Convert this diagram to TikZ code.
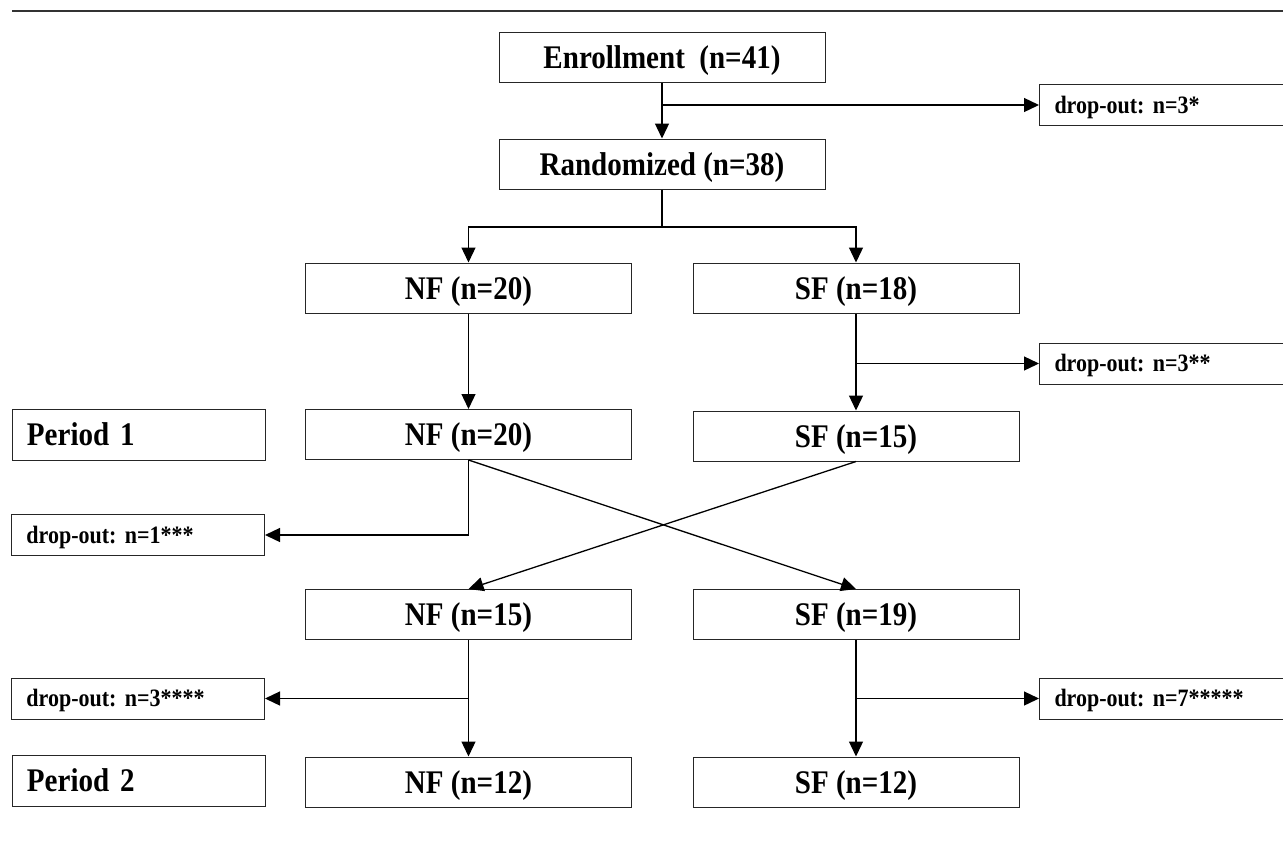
\documentclass[tikz,border=0pt]{standalone}
\usepackage{fontspec}
\setmainfont{Liberation Serif}[FakeStretch=0.88]
\usetikzlibrary{arrows.meta}
\frenchspacing

\begin{document}
\begin{tikzpicture}[x=1pt, y=-1pt,
    box/.style={draw=black!85, line width=1pt, minimum width=326pt, minimum height=50pt,
                inner sep=0pt, text height=24pt, text depth=2pt,
                font=\fontsize{33}{33}\selectfont\bfseries},
    period/.style={draw=black!85, line width=1pt, minimum width=253pt, minimum height=51pt,
                   text width=223pt, inner xsep=15pt, inner ysep=0pt, align=left,
                   text height=24pt, text depth=2pt,
                   font=\fontsize{33}{33}\selectfont\bfseries},
    dropout/.style={period, minimum height=41pt, text height=18pt, text depth=2pt,
                    font=\fontsize{25}{25}\selectfont\bfseries},
    conn/.style={line width=1.3pt},
    arr/.style={conn, -{Triangle[length=15pt,width=14pt]}}]

    \clip (0,0) rectangle (1283,855);

    % Linea in alto
    \draw[line width=2pt, black!80] (12,11) -- (1283,11);

    % Blocchi centrali
    \node[box] (enr)  at (662,57)    {Enrollment\ \ (n=41)};
    \node[box] (rand) at (662,164)   {Randomized (n=38)};
    \node[box] (nf1)  at (468.5,288) {NF (n=20)};
    \node[box] (sf1)  at (856,288)   {SF (n=18)};
    \node[box] (nf2)  at (468.5,434.5) {NF (n=20)};
    \node[box] (sf2)  at (856,436)   {SF (n=15)};
    \node[box] (nf3)  at (468.5,614.5) {NF (n=15)};
    \node[box] (sf3)  at (856,614.5) {SF (n=19)};
    \node[box] (nf4)  at (468.5,782) {NF (n=12)};
    \node[box] (sf4)  at (856,782)   {SF (n=12)};

    % Periodi
    \node[period] (per1) at (138.5,434.5) {Period 1};
    \node[period] (per2) at (138.5,780.5) {Period 2};

    % Drop-out
    \node[dropout, anchor=west] (drop1) at (1039,105)   {drop-out: n=3*};
    \node[dropout, anchor=west] (drop2) at (1039,363.5) {drop-out: n=3**};
    \node[dropout, anchor=east] (drop3) at (265,535)    {drop-out: n=1***};
    \node[dropout, anchor=east] (drop4) at (265,698.5)  {drop-out: n=3****};
    \node[dropout, anchor=west] (drop5) at (1039,698.5) {drop-out: n=7*****};

    % Percorso
    \draw[arr] (enr) -- (rand);                              % enrollment -> randomized
    \draw[arr] (enr.south |- drop1.west) -- (drop1.west);    % -> drop-out

    \coordinate (fork) at (662,227);
    \draw[conn] (rand) -- (fork);
    \draw[arr] (fork) -| (nf1);                              % -> NF
    \draw[arr] (fork) -| (sf1);                              % -> SF

    \draw[arr] (nf1) -- (nf2);                               % NF -> NF
    \draw[arr] (sf1) -- (sf2);                               % SF -> SF
    \draw[arr] (sf1.south |- drop2.west) -- (drop2.west);    % -> drop-out

    % Incrocio
    \draw[arr] (nf2.south) |- (drop3.east);                  % -> drop-out
    \draw[arr] (nf2.south) -- (sf3.north);                   % NF -> SF
    \draw[arr] (sf2.south) -- (nf3.north);                   % SF -> NF

    \draw[arr] (nf3) -- (nf4);                               % NF -> NF
    \draw[arr] (nf3.south |- drop4.east) -- (drop4.east);    % -> drop-out
    \draw[arr] (sf3) -- (sf4);                               % SF -> SF
    \draw[arr] (sf3.south |- drop5.west) -- (drop5.west);    % -> drop-out

\end{tikzpicture}
\end{document}
